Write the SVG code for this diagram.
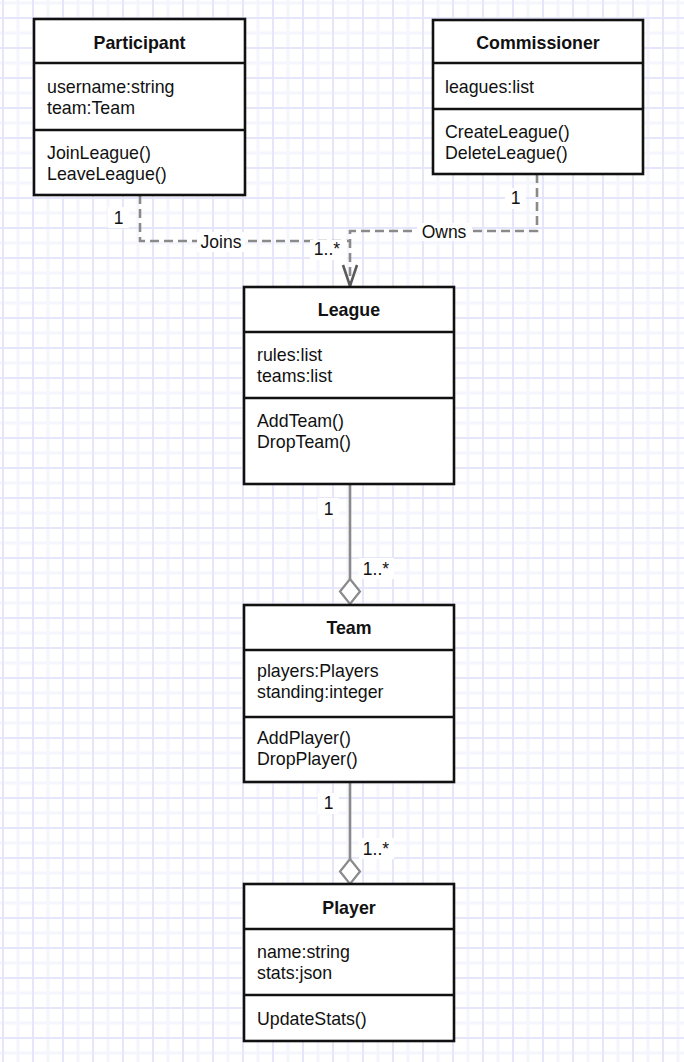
<svg xmlns="http://www.w3.org/2000/svg" width="684" height="1062" viewBox="0 0 684 1062">
<style>
.box{fill:#fff;stroke:#111;stroke-width:2.6}
.div{stroke:#111;stroke-width:2.6}
.t{font-family:"Liberation Sans",Arial,sans-serif;font-size:17.8px;fill:#111}
.h{font-family:"Liberation Sans",Arial,sans-serif;font-size:17.8px;font-weight:bold;fill:#111;text-anchor:middle}
.dash{fill:none;stroke:#8a8a8a;stroke-width:2.6;stroke-dasharray:9 5}
.solid{fill:none;stroke:#8a8a8a;stroke-width:2.6}
.lbl{font-family:"Liberation Sans",Arial,sans-serif;font-size:17.5px;fill:#111;text-anchor:middle}
.lb{fill:#fff}
</style>
<defs>
<pattern id="grid" patternUnits="userSpaceOnUse" x="2" y="17" width="30" height="30">
<rect x="14.5" y="0" width="3" height="30" fill="#f5f5fd"/>
<rect x="0" y="14.5" width="30" height="3" fill="#f5f5fd"/>
<rect x="0" y="0" width="2" height="30" fill="#e6e6fa"/>
<rect x="0" y="0" width="30" height="2" fill="#e6e6fa"/>
</pattern>
</defs>
<rect width="684" height="1062" fill="#fff"/>
<rect width="684" height="1062" fill="url(#grid)"/>

<g id="connectors">
<path class="dash" d="M140,195 V241 H350"/>
<path class="dash" d="M537,174 V231 H350 V286"/>
<path d="M343,265 L350,286 L357,265" fill="none" stroke="#5a5a5a" stroke-width="2.6"/>
<line class="solid" x1="350" y1="484" x2="350" y2="579"/>
<path d="M350,579 L360,591.5 L350,604 L340,591.5 Z" fill="#fff" stroke="#8a8a8a" stroke-width="2.2"/>
<line class="solid" x1="350" y1="782" x2="350" y2="859"/>
<path d="M350,859 L360,871.5 L350,884 L340,871.5 Z" fill="#fff" stroke="#8a8a8a" stroke-width="2.2"/>
<rect class="lb" x="108" y="207" width="21" height="21"/>
<text class="lbl" x="118.5" y="224">1</text>
<rect class="lb" x="197" y="232" width="48" height="20"/>
<text class="lbl" x="221" y="248">Joins</text>
<rect class="lb" x="310" y="240" width="37" height="20"/>
<text class="lbl" x="327" y="255">1..*</text>
<rect class="lb" x="417" y="223" width="55" height="18"/>
<text class="lbl" x="444" y="238">Owns</text>
<rect class="lb" x="505" y="188" width="21" height="21"/>
<text class="lbl" x="515.5" y="204">1</text>
<rect class="lb" x="318" y="498" width="21" height="21"/>
<text class="lbl" x="328.5" y="515">1</text>
<rect class="lb" x="359" y="558" width="35" height="21"/>
<text class="lbl" x="376" y="575">1..*</text>
<rect class="lb" x="318" y="793" width="21" height="21"/>
<text class="lbl" x="328.5" y="809">1</text>
<rect class="lb" x="359" y="838" width="35" height="21"/>
<text class="lbl" x="376" y="855">1..*</text>
</g>

<g id="participant">
<rect class="box" x="34" y="19" width="211" height="176"/>
<line class="div" x1="34" y1="63" x2="245" y2="63"/>
<line class="div" x1="34" y1="130" x2="245" y2="130"/>
<text class="h" x="139.5" y="49">Participant</text>
<text class="t" x="47" y="93">username:string</text>
<text class="t" x="47" y="114">team:Team</text>
<text class="t" x="47" y="159">JoinLeague()</text>
<text class="t" x="47" y="180">LeaveLeague()</text>
</g>

<g id="commissioner">
<rect class="box" x="433" y="20" width="210" height="154"/>
<line class="div" x1="433" y1="63" x2="643" y2="63"/>
<line class="div" x1="433" y1="109" x2="643" y2="109"/>
<text class="h" x="538" y="49">Commissioner</text>
<text class="t" x="445" y="93">leagues:list</text>
<text class="t" x="445" y="138">CreateLeague()</text>
<text class="t" x="445" y="159">DeleteLeague()</text>
</g>

<g id="league">
<rect class="box" x="244" y="287" width="210" height="197"/>
<line class="div" x1="244" y1="332" x2="454" y2="332"/>
<line class="div" x1="244" y1="398" x2="454" y2="398"/>
<text class="h" x="349" y="316">League</text>
<text class="t" x="257" y="361">rules:list</text>
<text class="t" x="257" y="382">teams:list</text>
<text class="t" x="257" y="427">AddTeam()</text>
<text class="t" x="257" y="448">DropTeam()</text>
</g>

<g id="team">
<rect class="box" x="244" y="605" width="210" height="177"/>
<line class="div" x1="244" y1="650" x2="454" y2="650"/>
<line class="div" x1="244" y1="717" x2="454" y2="717"/>
<text class="h" x="349" y="634">Team</text>
<text class="t" x="257" y="677">players:Players</text>
<text class="t" x="257" y="698">standing:integer</text>
<text class="t" x="257" y="744">AddPlayer()</text>
<text class="t" x="257" y="765">DropPlayer()</text>
</g>

<g id="player">
<rect class="box" x="244" y="884" width="210" height="157"/>
<line class="div" x1="244" y1="929" x2="454" y2="929"/>
<line class="div" x1="244" y1="995" x2="454" y2="995"/>
<text class="h" x="349" y="914">Player</text>
<text class="t" x="257" y="958">name:string</text>
<text class="t" x="257" y="979">stats:json</text>
<text class="t" x="257" y="1025">UpdateStats()</text>
</g>
</svg>
